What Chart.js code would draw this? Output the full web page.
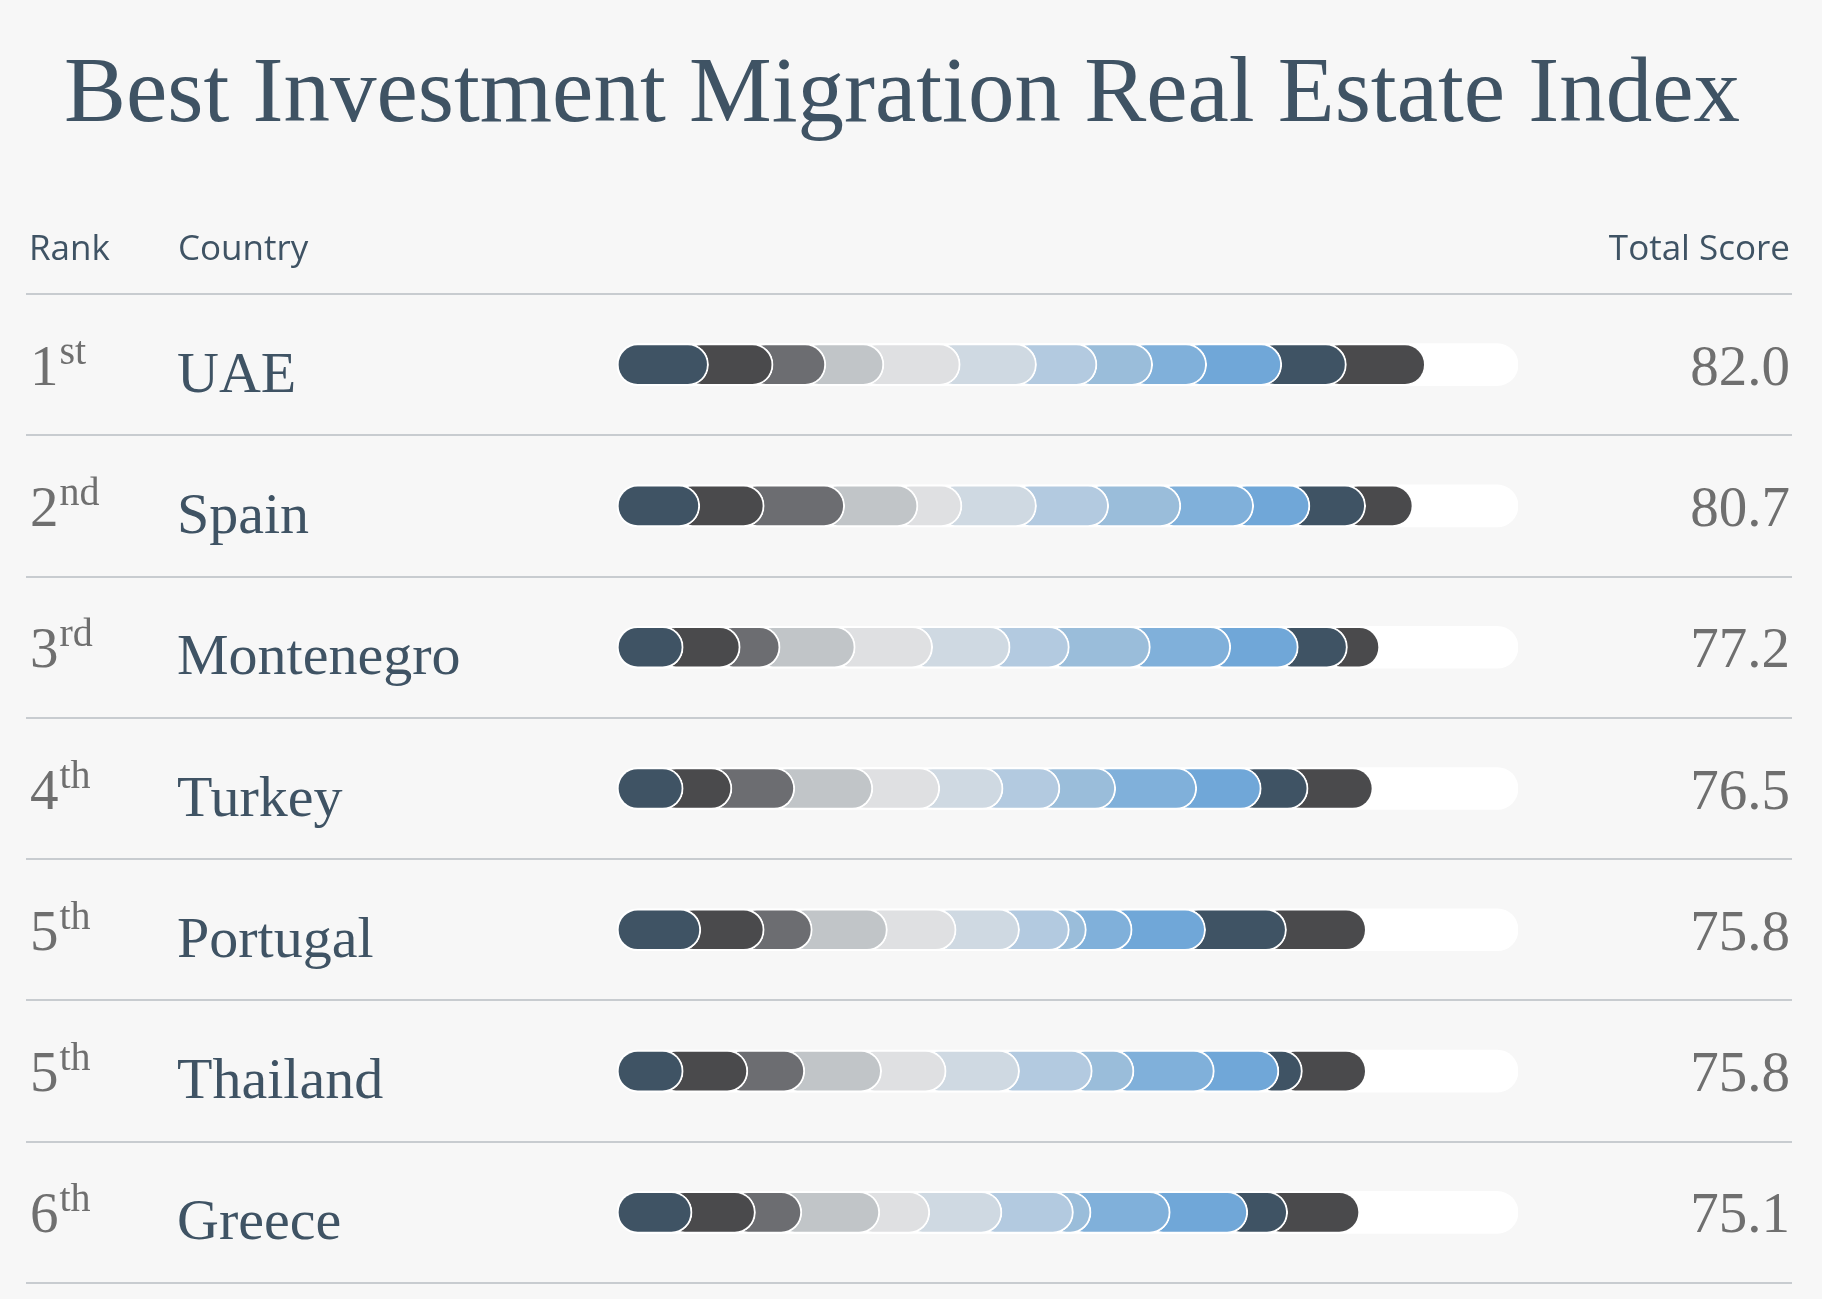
<!DOCTYPE html>
<html lang="en">
<head>
    <meta charset="UTF-8">
    <title>Best Investment Migration Real Estate Index</title>
    <script src="https://cdn.jsdelivr.net/npm/chart.js"></script>
    <style>
        html, body {
            margin: 0;
            padding: 0;
            background-color: #f7f7f7;
        }
        canvas {
            display: block;
        }
    </style>
</head>
<body>
    <canvas id="grafico" width="1822" height="1299"></canvas>

    <script>
        // data
        const countries = ["UAE", "Spain", "Montenegro", "Turkey", "Portugal", "Thailand", "Greece"];
        const rankNumbers = ["1", "2", "3", "4", "5", "5", "6"];
        const rankSuffixes = ["st", "nd", "rd", "th", "th", "th", "th"];
        const totalScores = [82.0, 80.7, 77.2, 76.5, 75.8, 75.8, 75.1];

        // the 12 coloured parts of each bar, left to right
        const partsUAE = [6.68, 6.78, 5.54, 6.10, 8.02, 8.01, 6.35, 5.85, 5.67, 7.89, 6.79, 8.32];
        const partsSpain = [5.76, 6.77, 8.45, 7.70, 4.62, 7.83, 7.58, 7.58, 7.65, 5.91, 5.85, 5.00];
        const partsMontenegro = [4.02, 5.99, 4.19, 7.89, 8.13, 8.14, 6.22, 8.51, 8.44, 7.10, 5.16, 3.41];
        const partsTurkey = [4.02, 5.12, 6.60, 8.20, 7.03, 6.65, 5.97, 5.86, 8.51, 6.78, 4.92, 6.84];
        const partsPortugal = [5.87, 6.66, 5.05, 7.89, 7.22, 6.66, 5.23, 1.79, 4.81, 7.71, 8.50, 8.41];
        const partsThailand = [4.02, 6.79, 5.98, 8.07, 6.78, 7.71, 7.64, 4.38, 8.44, 6.78, 2.47, 6.74];
        const partsGreece = [4.95, 6.66, 4.87, 8.19, 5.25, 7.58, 7.51, 1.85, 8.32, 8.14, 4.19, 7.59];
        const rowParts = [partsUAE, partsSpain, partsMontenegro, partsTurkey, partsPortugal, partsThailand, partsGreece];

        const partColors = ["#3f5364", "#4a4a4c", "#6c6d71", "#c1c5c8", "#dfe0e2", "#cfd9e2",
                            "#b3cae0", "#9abdda", "#80b0da", "#70a7d8", "#3f5364", "#4a4a4c"];

        // scale range and how far each part slides under the one before it
        const trackMin = -2.94;
        const trackMax = 91.7;
        const tuck = 2.94;

        const slate = "#3f5364";
        const grey = "#6f6f6f";

        let datasets = [];
        for (let p = 0; p < partColors.length; p++) {
            let data = rowParts.map(parts => {
                let start = parts.slice(0, p).reduce((a, b) => a + b, 0);
                let end = start + parts[p];
                return [start - tuck, end];
            });
            datasets.push({
                label: "part " + (p + 1),
                data: data,
                backgroundColor: partColors[p],
                borderColor: "#ffffff",
                borderWidth: 2,
                borderRadius: 21,
                borderSkipped: false,
                barThickness: 42,
                grouped: false
            });
        }
        // white track behind everything (last dataset is drawn first)
        datasets.push({
            label: "track",
            data: countries.map(() => [trackMin, trackMax]),
            backgroundColor: "#ffffff",
            borderWidth: 0,
            borderRadius: 21,
            borderSkipped: false,
            barThickness: 42,
            grouped: false
        });

        const tablePlugin = {
            id: "tableText",
            afterDraw(chart) {
                const ctx = chart.ctx;
                const yScale = chart.scales.y;
                const area = chart.chartArea;
                const rowH = (area.bottom - area.top) / countries.length;
                ctx.save();

                // title
                ctx.fillStyle = slate;
                ctx.font = "93px 'Liberation Serif'";
                ctx.textAlign = "center";
                ctx.textBaseline = "alphabetic";
                ctx.fillText("Best Investment Migration Real Estate Index", 902, 121);

                // header
                ctx.font = "35px 'Open Sans'";
                ctx.textAlign = "left";
                ctx.fillText("Rank", 29, 260);
                ctx.fillText("Country", 178, 260);
                ctx.textAlign = "right";
                ctx.fillText("Total Score", 1790, 260);

                // row lines
                ctx.strokeStyle = "#c8ccd0";
                ctx.lineWidth = 2;
                for (let i = 0; i <= countries.length; i++) {
                    let y = Math.round(area.top + i * rowH);
                    ctx.beginPath();
                    ctx.moveTo(26, y);
                    ctx.lineTo(1792, y);
                    ctx.stroke();
                }

                countries.forEach((name, i) => {
                    let cy = yScale.getPixelForValue(i);

                    // rank with superscript
                    ctx.textAlign = "left";
                    ctx.fillStyle = grey;
                    ctx.font = "57px 'Liberation Serif'";
                    ctx.fillText(rankNumbers[i], 30, cy + 20);
                    let w = ctx.measureText(rankNumbers[i]).width;
                    ctx.font = "40px 'Liberation Serif'";
                    ctx.fillText(rankSuffixes[i], 30 + w + 1, cy - 1);

                    // country
                    ctx.fillStyle = slate;
                    ctx.font = "58px 'Liberation Serif'";
                    ctx.fillText(name, 177, cy + 27);

                    // score
                    ctx.textAlign = "right";
                    ctx.fillStyle = grey;
                    ctx.font = "57px 'Liberation Serif'";
                    ctx.fillText(totalScores[i].toFixed(1), 1790, cy + 20);
                });
                ctx.restore();
            }
        };

        let ctx = document.getElementById("grafico").getContext("2d");
        new Chart(ctx, {
            type: "bar",
            data: {
                labels: countries,
                datasets: datasets
            },
            options: {
                indexAxis: "y",
                responsive: false,
                animation: false,
                devicePixelRatio: 1,
                layout: {
                    padding: { left: 617, right: 304, top: 294, bottom: 16 }
                },
                plugins: {
                    legend: { display: false },
                    tooltip: { enabled: false }
                },
                scales: {
                    x: { display: false, min: trackMin, max: trackMax },
                    y: { display: false }
                }
            },
            plugins: [tablePlugin]
        });
    </script>
</body>
</html>
